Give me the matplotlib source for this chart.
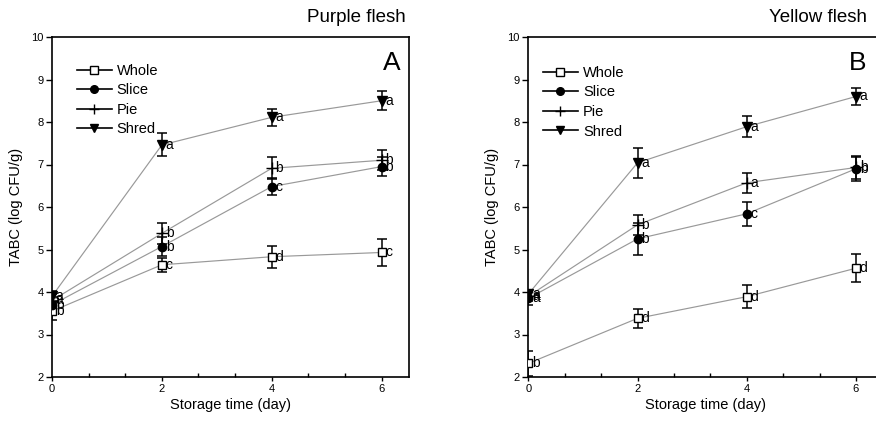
import matplotlib
matplotlib.use("Agg")
import matplotlib.pyplot as plt
from matplotlib.lines import Line2D
from matplotlib.ticker import MultipleLocator

plt.rcParams['font.family'] = ['Liberation Sans Narrow', 'Liberation Sans', 'DejaVu Sans']

days = [0, 2, 4, 6]
series = ['Whole', 'Slice', 'Pie', 'Shred']

purple_whole = [3.55, 4.64, 4.83, 4.93]
purple_whole_err = [0.2, 0.16, 0.26, 0.31]
purple_slice = [3.7, 5.07, 6.48, 6.95]
purple_slice_err = [0.18, 0.22, 0.2, 0.22]
purple_pie = [3.8, 5.38, 6.91, 7.1]
purple_pie_err = [0.15, 0.24, 0.26, 0.24]
purple_shred = [3.9, 7.46, 8.11, 8.5]
purple_shred_err = [0.12, 0.27, 0.2, 0.22]
purple_letters = [['b', 'c', 'd', 'c'], ['b', 'b', 'c', 'b'],
                  ['a', 'b', 'b', 'b'], ['a', 'a', 'a', 'a']]

yellow_whole = [2.32, 3.38, 3.89, 4.56]
yellow_whole_err = [0.3, 0.23, 0.27, 0.33]
yellow_slice = [3.85, 5.25, 5.84, 6.9]
yellow_slice_err = [0.15, 0.37, 0.28, 0.28]
yellow_pie = [3.9, 5.58, 6.57, 6.93]
yellow_pie_err = [0.12, 0.23, 0.24, 0.27]
yellow_shred = [3.95, 7.04, 7.89, 8.6]
yellow_shred_err = [0.1, 0.35, 0.25, 0.21]
yellow_letters = [['b', 'd', 'd', 'd'], ['a', 'b', 'c', 'b'],
                  ['a', 'b', 'a', 'b'], ['a', 'a', 'a', 'a']]

styles = [dict(marker='s', mfc='white', ms=6),
          dict(marker='o', mfc='black', ms=6),
          dict(marker='+', mfc='black', ms=8),
          dict(marker='v', mfc='black', ms=6.5)]

fig = plt.figure(figsize=(8.76, 4.32), dpi=100)
W, H = 876.0, 432.0

ax1 = fig.add_axes([52 / W, (H - 377) / H, 357 / W, 340 / H])
ax2 = fig.add_axes([528.3 / W, (H - 377) / H, 355 / W, 340 / H])


def draw(ax, vals, errs, letters, panel, leg_xy):
    for i, name in enumerate(series):
        st = styles[i]
        ax.plot(days, vals[i], color='#999999', lw=0.85, zorder=2)
        ax.errorbar(days, vals[i], yerr=errs[i], fmt='none', ecolor='black',
                    elinewidth=1.1, capsize=3.5, capthick=1.1, zorder=3)
        ax.plot(days, vals[i], linestyle='none', marker=st['marker'],
                mfc=st['mfc'], mec='black', mew=1.0, ms=st['ms'], zorder=4)
        for d, v, t in zip(days, vals[i], letters[i]):
            ax.text(d + 0.07, v, t, fontsize=10, ha='left', va='center', zorder=5)
    handles = [Line2D([], [], color='black', lw=1.2, marker=s['marker'],
                      mfc=s['mfc'], mec='black', ms=s['ms'] - 0.5) for s in styles]
    ax.legend(handles, series, loc='upper left', bbox_to_anchor=leg_xy,
              frameon=False, fontsize=10.5, handlelength=2.4, handletextpad=0.35,
              labelspacing=0.38, borderpad=0, borderaxespad=0)
    ax.set_xlim(0, 6.5)
    ax.set_ylim(2, 10)
    ax.xaxis.set_major_locator(MultipleLocator(2))
    ax.xaxis.set_minor_locator(MultipleLocator(2 / 3))
    ax.yaxis.set_major_locator(MultipleLocator(1))
    ax.tick_params(axis='x', which='major', direction='out', length=3, width=1, labelsize=8, pad=2)
    ax.tick_params(axis='x', which='minor', direction='in', length=3, width=1)
    ax.tick_params(axis='y', which='major', direction='out', length=4, width=1, labelsize=8, pad=2)
    for sp in ax.spines.values():
        sp.set_linewidth(1.2)
    ax.set_xlabel('Storage time (day)', fontsize=10.5, labelpad=3)
    ax.set_ylabel('TABC (log CFU/g)', fontsize=10.5, labelpad=6)
    ax.text(panel[1], panel[2], panel[0], transform=ax.transAxes, fontsize=19,
            ha='center', va='center')


draw(ax1, [purple_whole, purple_slice, purple_pie, purple_shred],
     [purple_whole_err, purple_slice_err, purple_pie_err, purple_shred_err],
     purple_letters, ('A', 0.951, 0.924), (0.069, 0.921))
draw(ax2, [yellow_whole, yellow_slice, yellow_pie, yellow_shred],
     [yellow_whole_err, yellow_slice_err, yellow_pie_err, yellow_shred_err],
     yellow_letters, ('B', 0.929, 0.924), (0.041, 0.915))

fig.text(356 / W, 1 - 18 / H, 'Purple flesh', fontsize=13.5, ha='center', va='center')
fig.text(818 / W, 1 - 18 / H, 'Yellow flesh', fontsize=13.5, ha='center', va='center')

fig.savefig('out.png', dpi=100)
